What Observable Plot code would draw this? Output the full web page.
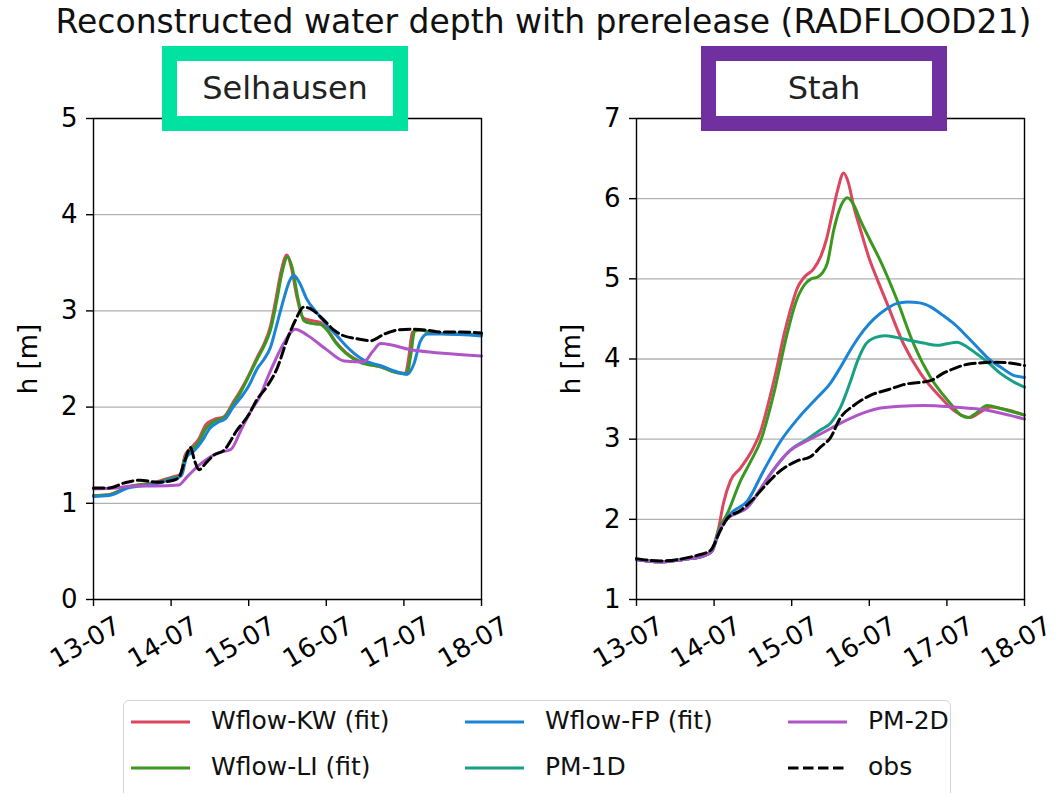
<!DOCTYPE html>
<html><head><meta charset="utf-8">
<script src="https://cdn.jsdelivr.net/npm/d3@7"></script>
<script src="https://cdn.jsdelivr.net/npm/@observablehq/plot@0.6"></script>
<style>
body{margin:0;background:#fff;font-family:"DejaVu Sans",sans-serif;color:#000;}
#wrap{position:relative;width:1063px;height:793px;overflow:hidden;background:#fff;}
.abs{position:absolute;}
.tbox{position:absolute;box-sizing:border-box;width:246px;height:85px;border:15px solid;background:#fff;text-align:center;font-size:32px;line-height:55px;color:#222;}
.leg{position:absolute;font-size:25px;line-height:30px;white-space:nowrap;color:#111;}
</style></head><body><div id="wrap"></div>
<script>
// ---- data (day offset from 13-07 00:00, water depth h [m]) ----
const dayTickLabels = ["13-07","14-07","15-07","16-07","17-07","18-07"];
const seriesNames = ["Wflow-KW (fit)","Wflow-LI (fit)","Wflow-FP (fit)","PM-1D","PM-2D","obs"];
const seriesColors = ["#dc4660","#3a981f","#1c84d6","#17a084","#b055c8","#000000"];

// Selhausen
const selKW = [[0,1.08],[0.2,1.09],[0.45,1.17],[0.8,1.22],[1.0,1.27],[1.12,1.3],[1.18,1.5],[1.25,1.57],[1.35,1.66],[1.45,1.82],[1.55,1.87],[1.68,1.9],[1.8,2.05],[1.9,2.18],[2.0,2.33],[2.11,2.52],[2.2,2.66],[2.28,2.84],[2.35,3.12],[2.42,3.42],[2.49,3.58],[2.55,3.45],[2.62,3.15],[2.7,2.93],[2.8,2.9],[2.92,2.88],[3.02,2.8],[3.12,2.68],[3.25,2.57],[3.45,2.47],[3.7,2.42],[3.9,2.36],[4.02,2.35],[4.06,2.5],[4.11,2.78],[4.2,2.8],[4.4,2.77],[4.7,2.76],[5,2.75]];
const selLI = [[0,1.08],[0.2,1.09],[0.45,1.17],[0.8,1.21],[1.0,1.26],[1.12,1.29],[1.18,1.48],[1.25,1.55],[1.35,1.63],[1.45,1.78],[1.55,1.85],[1.68,1.89],[1.8,2.03],[1.9,2.16],[2.0,2.32],[2.11,2.5],[2.2,2.64],[2.28,2.8],[2.36,3.1],[2.43,3.4],[2.5,3.56],[2.56,3.45],[2.63,3.15],[2.71,2.9],[2.8,2.87],[2.92,2.86],[3.02,2.79],[3.12,2.67],[3.25,2.56],[3.45,2.46],[3.7,2.42],[3.9,2.36],[4.04,2.35],[4.09,2.55],[4.14,2.8],[4.22,2.8],[4.4,2.77],[4.7,2.76],[5,2.75]];
const selFP = [[0,1.07],[0.2,1.08],[0.45,1.16],[0.8,1.2],[1.0,1.25],[1.1,1.27],[1.14,1.3],[1.2,1.48],[1.3,1.55],[1.4,1.65],[1.5,1.78],[1.6,1.84],[1.7,1.88],[1.8,2.0],[1.9,2.1],[2.0,2.22],[2.11,2.4],[2.2,2.5],[2.28,2.62],[2.36,2.85],[2.45,3.12],[2.52,3.3],[2.58,3.37],[2.65,3.3],[2.75,3.12],[2.88,2.98],[3.0,2.86],[3.15,2.73],[3.3,2.6],[3.5,2.48],[3.7,2.43],[3.9,2.37],[4.04,2.34],[4.13,2.45],[4.21,2.68],[4.3,2.76],[4.5,2.76],[5,2.74]];
const sel2D = [[0,1.15],[0.3,1.16],[0.5,1.18],[0.8,1.18],[1.1,1.19],[1.2,1.27],[1.38,1.41],[1.59,1.52],[1.77,1.56],[1.9,1.76],[2.02,1.95],[2.15,2.12],[2.24,2.3],[2.35,2.5],[2.45,2.66],[2.6,2.81],[2.75,2.75],[3.0,2.6],[3.23,2.48],[3.48,2.47],[3.6,2.58],[3.7,2.66],[4.13,2.59],[4.5,2.56],[5,2.53]];
const selObs = [[0,1.16],[0.2,1.16],[0.39,1.21],[0.6,1.24],[0.82,1.22],[1.03,1.24],[1.1,1.27],[1.18,1.45],[1.25,1.58],[1.3,1.45],[1.36,1.35],[1.45,1.42],[1.55,1.5],[1.68,1.55],[1.85,1.76],[2.0,1.92],[2.1,2.07],[2.24,2.22],[2.37,2.41],[2.49,2.69],[2.6,2.9],[2.71,3.04],[2.8,3.02],[2.95,2.92],[3.1,2.8],[3.2,2.75],[3.4,2.71],[3.57,2.69],[3.75,2.76],[3.91,2.8],[4.12,2.81],[4.3,2.8],[4.47,2.78],[4.75,2.78],[5,2.77]];

// Stah
const staKW = [[0,1.5],[0.3,1.47],[0.6,1.5],[0.85,1.54],[0.97,1.6],[1.05,1.85],[1.12,2.2],[1.21,2.48],[1.34,2.64],[1.5,2.88],[1.6,3.1],[1.7,3.45],[1.8,3.85],[1.9,4.3],[1.98,4.6],[2.07,4.88],[2.16,5.02],[2.28,5.12],[2.37,5.27],[2.45,5.5],[2.52,5.8],[2.59,6.1],[2.67,6.32],[2.73,6.2],[2.8,5.9],[2.89,5.6],[3.0,5.25],[3.1,5.0],[3.23,4.69],[3.44,4.19],[3.66,3.82],[3.92,3.52],[4.1,3.35],[4.3,3.27],[4.45,3.35],[4.56,3.4],[4.8,3.36],[5,3.3]];
const staLI = [[0,1.5],[0.3,1.47],[0.6,1.5],[0.85,1.54],[0.97,1.6],[1.05,1.85],[1.17,2.07],[1.34,2.48],[1.47,2.72],[1.6,2.98],[1.77,3.57],[1.94,4.31],[2.05,4.7],[2.16,4.92],[2.25,5.0],[2.33,5.02],[2.4,5.08],[2.46,5.2],[2.54,5.6],[2.63,5.9],[2.72,6.01],[2.8,5.92],[2.89,5.72],[3.0,5.5],[3.14,5.23],[3.36,4.73],[3.57,4.19],[3.79,3.77],[4.05,3.44],[4.18,3.3],[4.28,3.27],[4.37,3.32],[4.52,3.42],[4.7,3.38],[5,3.3]];
const staFP = [[0,1.5],[0.3,1.47],[0.6,1.5],[0.85,1.54],[0.97,1.6],[1.05,1.8],[1.12,1.95],[1.21,2.07],[1.43,2.23],[1.64,2.61],[1.86,2.98],[2.1,3.28],[2.33,3.52],[2.5,3.7],[2.63,3.9],[2.78,4.15],[2.93,4.36],[3.06,4.5],[3.23,4.63],[3.35,4.69],[3.49,4.71],[3.65,4.7],[3.79,4.65],[3.94,4.55],[4.09,4.44],[4.24,4.3],[4.39,4.15],[4.54,4.0],[4.69,3.9],[4.85,3.8],[5,3.77]];
const sta1D = [[0,1.5],[0.3,1.47],[0.6,1.5],[0.85,1.54],[0.97,1.6],[1.05,1.82],[1.17,2.01],[1.3,2.08],[1.43,2.15],[1.6,2.38],[1.73,2.57],[1.98,2.86],[2.2,3.0],[2.38,3.12],[2.5,3.2],[2.63,3.4],[2.75,3.7],[2.85,3.98],[2.95,4.18],[3.08,4.27],[3.2,4.29],[3.35,4.27],[3.53,4.23],[3.7,4.2],[3.87,4.17],[4.0,4.19],[4.13,4.21],[4.26,4.15],[4.39,4.06],[4.54,3.95],[4.69,3.82],[4.85,3.72],[5,3.65]];
const sta2D = [[0,1.5],[0.3,1.47],[0.6,1.5],[0.85,1.54],[0.97,1.6],[1.05,1.82],[1.17,2.01],[1.3,2.08],[1.43,2.15],[1.6,2.38],[1.73,2.57],[1.98,2.86],[2.2,2.98],[2.4,3.08],[2.63,3.2],[2.85,3.3],[3.1,3.38],[3.4,3.41],[3.7,3.42],[4.09,3.4],[4.52,3.36],[4.8,3.3],[5,3.25]];
const staObs = [[0,1.51],[0.31,1.48],[0.6,1.51],[0.78,1.55],[0.95,1.61],[1.08,1.86],[1.17,2.01],[1.34,2.11],[1.5,2.25],[1.64,2.4],[1.81,2.57],[2.07,2.73],[2.24,2.78],[2.37,2.9],[2.5,3.02],[2.63,3.27],[2.8,3.42],[3.02,3.55],[3.25,3.62],[3.44,3.68],[3.79,3.73],[3.95,3.82],[4.09,3.88],[4.3,3.94],[4.65,3.96],[5,3.92]];

const selYTicks = [0,1,2,3,4,5];
const staYTicks = [1,2,3,4,5,6,7];

// ---- build ----
const T0 = Date.UTC(2021,6,13);
const DAY = 86400000;
const toRows = arr => arr.map(([d,v]) => ({t: new Date(T0 + d*DAY), v}));
const dayTicks = dayTickLabels.map((s,i) => new Date(T0 + i*DAY));
const wrap = document.getElementById("wrap");
const LW = 3;
const DASH = "10.5,4.5";

function panel(list, yTicks) {
  const lines = list.map(([arr, idx]) => Plot.line(toRows(arr), {
    x: "t", y: "v", stroke: seriesColors[idx], strokeWidth: LW, curve: "monotone-x",
    strokeDasharray: seriesNames[idx] === "obs" ? DASH : null
  }));
  return Plot.plot({
    width: 520, height: 600,
    marginLeft: 93, marginRight: 39, marginTop: 18, marginBottom: 101,
    style: {fontFamily: "DejaVu Sans", fontSize: "26px", color: "#000", background: "transparent", overflow: "visible"},
    x: {type: "utc", domain: [dayTicks[0], dayTicks[5]], label: null},
    y: {domain: [yTicks[0], yTicks[yTicks.length-1]], label: null},
    marks: [
      Plot.gridY(yTicks, {stroke: "#b0b0b0", strokeOpacity: 1, strokeWidth: 1.3}),
      ...lines,
      Plot.frame({stroke: "#000", strokeWidth: 1.4}),
      Plot.axisY(yTicks, {tickSize: 7, tickPadding: 9, fontSize: 26, label: null, strokeWidth: 1.4, tickFormat: d3.format("d")}),
      Plot.axisX(dayTicks, {tickSize: 7, tickFormat: () => "", label: null, strokeWidth: 1.4}),
      Plot.text(dayTicks, {x: d => d, frameAnchor: "bottom", dy: 50, dx: -4, rotate: -30,
        text: (d, i) => dayTickLabels[i], fontSize: 26, textAnchor: "middle"}),
      Plot.text(["h [m]"], {frameAnchor: "left", dx: -65, rotate: -90, fontSize: 26, textAnchor: "middle"})
    ]
  });
}

const left = panel([[selKW,0],[selLI,1],[selFP,2],[sel2D,4],[selObs,5]], selYTicks);
left.style.position = "absolute"; left.style.left = "0px"; left.style.top = "100px";
wrap.appendChild(left);

const right = panel([[staKW,0],[staLI,1],[staFP,2],[sta1D,3],[sta2D,4],[staObs,5]], staYTicks);
right.style.position = "absolute"; right.style.left = "543px"; right.style.top = "100px";
wrap.appendChild(right);

// title
const title = document.createElement("div");
title.className = "abs";
title.style.cssText = "left:12px;top:4px;width:1063px;text-align:center;font-size:33px;line-height:36px;color:#111;";
title.textContent = "Reconstructed water depth with prerelease (RADFLOOD21)";
wrap.appendChild(title);

// station boxes
[["Selhausen", 162, "#00e3a0"], ["Stah", 701, "#7030a0"]].forEach(([name, x, col]) => {
  const b = document.createElement("div");
  b.className = "tbox";
  b.style.left = x + "px"; b.style.top = "46px"; b.style.borderColor = col;
  b.textContent = name;
  wrap.appendChild(b);
});

// legend
const legBox = document.createElement("div");
legBox.className = "abs";
legBox.style.cssText = "left:123px;top:700px;width:828px;height:110px;border:1.3px solid #d4d4d4;border-radius:6px;background:#fff;box-sizing:border-box;";
wrap.appendChild(legBox);
const legCols = [[131, 211], [465, 545], [788, 868]];
const legRows = [722, 768];
seriesNames.forEach((name, k) => {
  const col = Math.floor(k / 2), row = k % 2;
  const [lx, tx] = legCols[col];
  const y = legRows[row];
  const sw = document.createElementNS("http://www.w3.org/2000/svg", "svg");
  sw.setAttribute("width", 60); sw.setAttribute("height", 10);
  sw.style.cssText = `position:absolute;left:${lx}px;top:${y-5}px;`;
  const ln = document.createElementNS("http://www.w3.org/2000/svg", "line");
  ln.setAttribute("x1", 0); ln.setAttribute("x2", 59); ln.setAttribute("y1", 5); ln.setAttribute("y2", 5);
  ln.setAttribute("stroke", seriesColors[k]); ln.setAttribute("stroke-width", LW);
  if (name === "obs") ln.setAttribute("stroke-dasharray", DASH);
  sw.appendChild(ln);
  wrap.appendChild(sw);
  const t = document.createElement("div");
  t.className = "leg";
  t.style.left = tx + "px"; t.style.top = (y - 16) + "px";
  t.textContent = name;
  wrap.appendChild(t);
});
</script></body></html>
